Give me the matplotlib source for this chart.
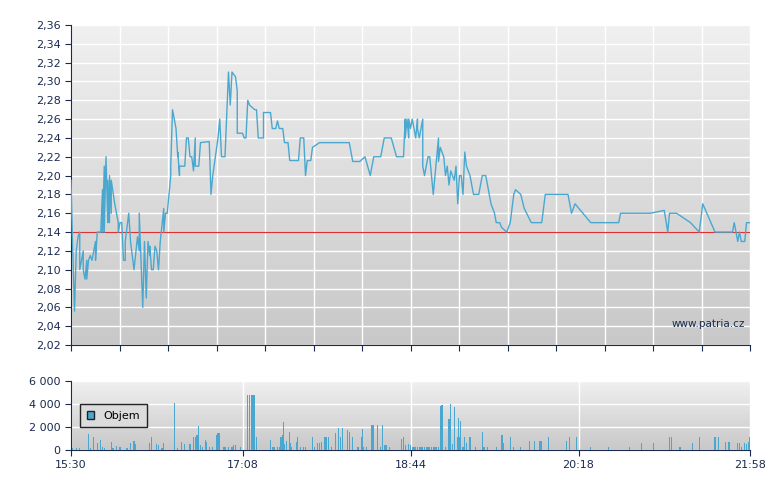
import matplotlib
matplotlib.use("Agg")
import matplotlib.pyplot as plt
import numpy as np
from matplotlib.patches import Patch
from matplotlib.colors import LinearSegmentedColormap

# minutes since 15:30
price_t = [0,1,2,3,4,5,5,6,7,7,8,9,9,10,11,12,13,14,14,15,17,18,18,19,19,20,21,21,22,22,23,23,25,26,27,27,28,29,30,31,31,33,33,34,36,38,38,39,39,41,41,42,43,44,45,45,46,47,48,49,50,51,53,53,54,55,57,57,58,59,60,61,61,62,62,65,66,67,68,69,70,71,71,73,74,78,79,80,81,84,85,86,88,90,91,92,94,95,95,98,99,100,101,102,105,106,107,110,110,114,115,117,118,119,121,122,123,124,125,130,131,133,134,135,137,138,142,159,161,165,168,171,173,177,179,183,186,190,191,191,192,193,193,194,195,197,198,198,199,201,201,202,204,205,206,207,209,210,210,211,213,214,215,216,217,218,219,220,221,222,223,224,225,226,228,230,233,235,237,238,240,242,243,245,246,249,251,253,254,257,259,263,269,271,284,286,288,297,313,314,331,339,341,342,346,354,359,361,368,378,379,381,382,383,385,386,388]
price = [2.195,2.12,2.056,2.12,2.135,2.14,2.10,2.11,2.12,2.10,2.09,2.11,2.09,2.11,2.115,2.11,2.12,2.13,2.11,2.14,2.14,2.185,2.14,2.21,2.14,2.22,2.15,2.195,2.15,2.20,2.16,2.195,2.17,2.16,2.15,2.14,2.15,2.15,2.11,2.11,2.13,2.16,2.16,2.13,2.10,2.135,2.135,2.12,2.16,2.06,2.06,2.13,2.07,2.13,2.115,2.125,2.10,2.10,2.125,2.12,2.10,2.13,2.165,2.14,2.16,2.16,2.20,2.21,2.27,2.26,2.25,2.22,2.225,2.20,2.21,2.21,2.24,2.24,2.22,2.22,2.205,2.24,2.21,2.21,2.235,2.236,2.236,2.18,2.20,2.24,2.26,2.22,2.22,2.31,2.275,2.31,2.305,2.29,2.245,2.245,2.24,2.24,2.28,2.275,2.27,2.27,2.24,2.24,2.267,2.267,2.25,2.25,2.258,2.25,2.25,2.235,2.235,2.235,2.216,2.216,2.24,2.24,2.20,2.216,2.216,2.23,2.235,2.235,2.215,2.215,2.22,2.20,2.22,2.22,2.24,2.24,2.22,2.22,2.26,2.24,2.26,2.24,2.26,2.25,2.26,2.24,2.26,2.25,2.24,2.26,2.21,2.20,2.22,2.22,2.20,2.18,2.22,2.24,2.215,2.23,2.22,2.20,2.21,2.19,2.205,2.20,2.195,2.21,2.17,2.20,2.20,2.18,2.225,2.21,2.20,2.18,2.18,2.20,2.20,2.19,2.17,2.16,2.15,2.15,2.145,2.14,2.15,2.18,2.185,2.18,2.165,2.15,2.15,2.18,2.18,2.16,2.17,2.15,2.15,2.16,2.16,2.163,2.14,2.16,2.16,2.15,2.14,2.17,2.14,2.14,2.15,2.13,2.14,2.13,2.13,2.15,2.15]

vol_t = [1,3,5,10,11,13,15,17,18,19,23,24,26,28,32,34,36,37,45,46,49,50,52,53,59,61,63,65,68,70,71,72,73,74,75,77,77.6,79,81,83,84,85,87,88,90,92,93,94,97,101,102,103,104,105,106,114,115,116,118,119,120,121,121.6,122,123,125,125.6,126,129,129.6,131,133,134,138,139,141,142,143,145,145.6,146,147,149,151,153,154,155,158,159,161,164,166,166.6,167,169,172,173,175,177,178,179,180,182,189,190,191,193,194,195,196,197,198,199,200,201,202,203,204,205,206,207,208,209,210,211,212,214,216,217,218,219,221,221.6,222,222.6,224,225,226,228,231,235,236,238,243,246,246.6,247,251,253,257,262,265,268,269,273,283,285,289,297,307,319,326,333,342,343,348,355,359,368,370,374,376,381,382,383,385,386,387,388]
volume = [200,200,150,1400,200,1100,600,900,300,200,700,200,350,300,200,600,800,500,600,1100,500,400,200,600,4100,200,700,500,500,1100,1100,1300,2100,400,300,900,700,300,300,1300,1500,1500,300,300,300,300,400,400,300,4800,4800,4800,4800,4800,1100,900,300,300,300,300,1100,1300,2400,500,800,1600,600,300,700,1100,300,300,300,1100,300,600,600,700,1100,1100,1100,1100,300,1500,1900,1100,1900,1700,1600,1100,300,1100,1800,300,300,2200,2200,2200,300,2200,400,400,300,1000,1100,400,500,400,300,300,300,300,300,300,300,300,300,300,300,300,300,300,300,300,3800,3900,300,2700,4000,500,3700,1100,2800,1100,2500,300,1100,600,1100,300,1600,300,300,300,1300,1300,600,1100,300,300,800,800,800,800,1100,800,1100,1100,300,300,300,600,600,1100,1100,300,600,1100,1100,1100,700,700,600,600,300,600,500,700,1100]

ref_price = 2.14
vol_tick_pos = [0, 98, 194, 290, 388]
vol_tick_lab = ["15:30", "17:08", "18:44", "20:18", "21:58"]
price_ticks = np.round(np.arange(2.02, 2.3601, 0.02), 2)
vol_ticks = [0, 2000, 4000, 6000]

n = min(len(vol_t), len(volume))
navy = "#1a2a50"
line_c = "#4aa8d0"
fig = plt.figure(figsize=(7.8, 4.9), dpi=100)
ax = fig.add_axes([71/780, 1-345/490, 679/780, 320/490])
axv = fig.add_axes([71/780, 1-450/490, 679/780, 69/490])

grad = np.linspace(0, 1, 256).reshape(-1, 1)
cm = LinearSegmentedColormap.from_list("g", ["#f0f0f0", "#c8c8c8"])
for a in (ax, axv):
    a.imshow(grad, aspect="auto", cmap=cm, extent=[0, 1, 0, 1], transform=a.transAxes, zorder=0)
    for s in ("top", "right"):
        a.spines[s].set_visible(False)
    for s in ("left", "bottom"):
        a.spines[s].set_color(navy)
    a.tick_params(colors=navy, labelsize=8, direction="out", length=4)
    a.set_xlim(0, 388)

ax.plot(price_t, price, color=line_c, lw=1, zorder=3)
ax.axhline(ref_price, color="#e03030", lw=0.9, zorder=2)
ax.set_ylim(2.02, 2.36)
ax.set_yticks(price_ticks)
ax.set_yticklabels([f"{v:.2f}".replace(".", ",") for v in price_ticks])
ax.set_xticks(np.linspace(0, 388, 15))
ax.set_xticklabels([])
ax.grid(True, color="white", lw=1)
for gl in ax.get_xgridlines() + ax.get_ygridlines():
    gl.set_zorder(1)
ax.text(0.993, 0.065, "www.patria.cz", transform=ax.transAxes, ha="right", va="center", fontsize=7.5, color=navy)

axv.bar(vol_t[:n], volume[:n], width=0.6, color=line_c, zorder=3)
axv.set_ylim(0, 6000)
axv.set_yticks(vol_ticks)
axv.set_yticklabels(["0", "2 000", "4 000", "6 000"])
axv.set_xticks(vol_tick_pos)
axv.set_xticklabels(vol_tick_lab)
axv.grid(True, color="white", lw=1)
for gl in axv.get_xgridlines() + axv.get_ygridlines():
    gl.set_zorder(1)
leg = axv.legend(handles=[Patch(facecolor=line_c, edgecolor="#222222", label="Objem")],
                 loc="lower left", bbox_to_anchor=(0.005, 0.25), fontsize=8, frameon=True,
                 fancybox=False, handlelength=0.7, handleheight=0.7, borderpad=0.6)
leg.get_frame().set_edgecolor("#222222")
leg.get_frame().set_facecolor("#dcdcdc")
leg.get_frame().set_alpha(1)

fig.savefig("out.png", dpi=100)
